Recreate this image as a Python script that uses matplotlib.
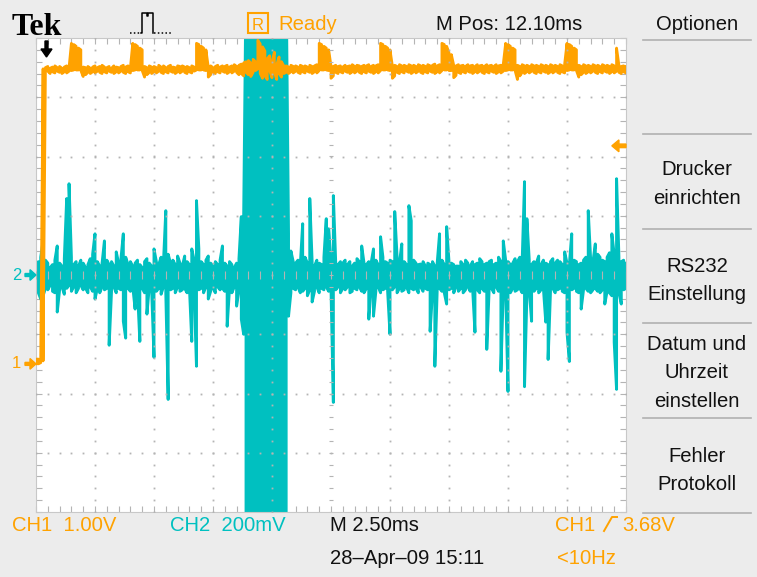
import matplotlib.pyplot as plt
import numpy as np
from matplotlib.patches import Polygon, Rectangle
from matplotlib.lines import Line2D
from matplotlib.transforms import blended_transform_factory

# scope settings
time_per_div = 2.5      # ms
ch1_per_div = 1.0       # V
ch2_per_div = 200.0     # mV
ch1_pos = -1.5          # div
ch2_pos = 0.0           # div
trig_level = 3.68       # V
col_step = 0.1          # ms per display column

# CH2 (cyan), per display column: max and min in mV
ch2_hi = [30, 45, 60, 115, 50, 40, 25, 35, 50, 98,
          40, 30, 55, 258, 308, 60, 35, 45, 30, 50,
          40, 25, 35, 55, 70, 139, 45, 30, 40, 115,
          50, 35, 45, 30, 78, 40, 55, 139, 60, 35,
          45, 30, 40, 50, 35, 25, 45, 55, 40, 30,
          88, 45, 35, 60, 40, 217, 70, 40, 50, 35,
          64, 40, 30, 64, 45, 35, 88, 50, 251, 88,
          45, 35, 50, 64, 40, 30, 45, 35, 50, 98,
          40, 30, 45, 35, 25, 40, 55, 197, 200, 1000,
          1000, 1000, 1000, 1000, 1000, 1000, 1000, 1000, 1000, 1000,
          1000, 1000, 1000, 1000, 1000, 1000, 1000, 139, 81, 45,
          40, 50, 35, 173, 60, 40, 258, 45, 30, 50,
          40, 35, 60, 190, 156, 45, 268, 40, 35, 45,
          40, 50, 35, 45, 30, 40, 55, 45, 98, 40,
          35, 45, 40, 88, 50, 35, 129, 60, 45, 40,
          50, 45, 214, 60, 40, 105, 45, 35, 234, 183,
          50, 40, 35, 37, 45, 30, 40, 35, 45, 30,
          40, 139, 50, 35, 163, 45, 40, 35, 30, 30,
          45, 35, 50, 40, 30, 45, 35, 40, 55, 45,
          35, 40, 45, 50, 35, 40, 60, 45, 115, 50,
          45, 35, 40, 55, 45, 60, 45, 315, 190, 50,
          35, 45, 40, 64, 35, 50, 40, 35, 45, 55,
          40, 50, 45, 35, 78, 40, 35, 139, 50, 45,
          35, 40, 50, 60, 217, 55, 45, 105, 70, 60,
          50, 45, 60, 75, 139, 70, 325, 60, 45, 50,
          40]
ch2_lo = [-40, -60, -81, -70, -45, -50, -35, -55, -60, -125,
          -50, -40, -65, -45, -35, -55, -40, -60, -45, -35,
          -50, -45, -60, -40, -55, -81, -45, -60, -40, -50,
          -45, -237, -55, -40, -60, -45, -50, -156, -213, -45,
          -55, -40, -115, -50, -224, -45, -60, -132, -40, -50,
          -278, -55, -45, -65, -40, -60, -420, -50, -45, -60,
          -40, -55, -50, -45, -60, -40, -224, -55, -308, -50,
          -45, -60, -40, -81, -55, -45, -60, -40, -50, -45,
          -55, -173, -45, -60, -40, -105, -50, -149, -200, -1000,
          -1000, -1000, -1000, -1000, -1000, -1000, -1000, -1000, -1000, -1000,
          -1000, -1000, -1000, -1000, -1000, -1000, -1000, -139, -60, -45,
          -50, -40, -60, -55, -45, -70, -50, -91, -55, -40,
          -60, -45, -50, -40, -55, -45, -430, -50, -40, -60,
          -45, -50, -40, -60, -55, -45, -50, -40, -55, -60,
          -45, -149, -50, -139, -55, -40, -60, -50, -45, -55,
          -200, -50, -40, -60, -45, -55, -50, -40, -60, -45,
          -50, -45, -60, -40, -55, -45, -50, -190, -60, -308,
          -50, -45, -55, -60, -98, -50, -45, -60, -40, -55,
          -45, -60, -50, -40, -55, -45, -193, -50, -60, -45,
          -55, -251, -50, -45, -60, -40, -55, -325, -50, -45,
          -393, -60, -45, -55, -50, -45, -60, -377, -70, -50,
          -156, -55, -45, -60, -50, -45, -159, -285, -55, -45,
          -60, -50, -45, -55, -60, -193, -292, -50, -45, -55,
          -60, -115, -50, -45, -55, -60, -50, -45, -55, -60,
          -50, -98, -55, -60, -70, -227, -386, -60, -98, -50,
          -45]

# CH1 (orange), per display column: max and min in V
ch1_hi = [0.08, 0.08, 0.10, 4.98, 5.00, 5.02, 4.99, 5.01, 5.03, 5.00,
          5.02, 4.99, 5.01, 5.03, 5.00, 5.41, 5.39, 5.36, 5.33, 5.30,
          5.01, 5.00, 5.02, 4.99, 5.01, 5.03, 5.00, 5.02, 5.04, 5.01,
          5.00, 5.02, 4.99, 5.03, 5.01, 5.00, 5.02, 5.04, 5.01, 5.03,
          5.00, 5.41, 5.39, 5.36, 5.33, 5.30, 5.02, 5.00, 5.03, 5.01,
          5.02, 5.00, 5.04, 5.01, 5.03, 5.00, 5.02, 5.04, 5.01, 5.00,
          5.03, 5.02, 5.03, 5.01, 5.02, 5.00, 5.03, 5.01, 5.41, 5.39,
          5.36, 5.33, 5.30, 5.01, 5.03, 5.00, 5.02, 5.04, 5.01, 5.03,
          5.02, 5.04, 5.01, 5.03, 5.05, 5.02, 5.04, 5.06, 5.08, 5.10,
          5.12, 5.08, 5.14, 5.10, 5.46, 5.40, 5.35, 5.28, 5.15, 5.20,
          5.10, 5.26, 5.05, 5.18, 5.10, 5.03, 5.03, 5.01, 5.04, 5.02,
          5.03, 5.01, 5.04, 5.02, 5.03, 5.01, 5.04, 5.02, 5.03, 5.05,
          5.41, 5.39, 5.36, 5.33, 5.30, 5.03, 5.02, 5.04, 5.02, 5.03,
          5.01, 5.04, 5.02, 5.03, 5.05, 5.02, 5.04, 5.03, 5.02, 5.04,
          5.03, 5.05, 5.02, 5.04, 5.03, 5.05, 5.41, 5.39, 5.36, 5.33,
          5.30, 5.03, 5.04, 5.02, 5.05, 5.03, 5.04, 5.02, 5.05, 5.03,
          5.04, 5.02, 5.05, 5.03, 5.04, 5.02, 5.05, 5.03, 5.04, 5.06,
          5.03, 5.05, 5.41, 5.39, 5.36, 5.25, 5.22, 5.04, 5.03, 5.05,
          5.03, 5.04, 5.02, 5.05, 5.03, 5.04, 5.02, 5.05, 5.03, 5.04,
          5.02, 5.05, 5.03, 5.04, 5.02, 5.05, 5.03, 5.04, 5.06, 5.41,
          5.39, 5.36, 5.33, 5.30, 5.04, 5.02, 5.05, 5.03, 5.04, 5.02,
          5.05, 5.03, 5.04, 5.02, 5.05, 5.03, 5.04, 5.02, 5.05, 5.03,
          5.04, 5.02, 5.05, 5.03, 5.06, 5.41, 5.39, 5.36, 5.33, 5.30,
          5.04, 5.02, 5.05, 5.03, 5.04, 5.02, 5.05, 5.03, 5.04, 5.02,
          5.05, 5.03, 5.04, 5.02, 5.05, 5.03, 5.33, 5.04, 5.02, 5.03,
          5.02]
ch1_lo = [0.00, 0.00, 0.02, 0.05, 4.92, 4.94, 4.90, 4.93, 4.91, 4.94,
          4.92, 4.90, 4.93, 4.91, 4.94, 4.95, 4.96, 4.96, 4.96, 4.95,
          4.85, 4.88, 4.92, 4.90, 4.93, 4.91, 4.94, 4.92, 4.90, 4.93,
          4.91, 4.94, 4.92, 4.90, 4.93, 4.91, 4.94, 4.92, 4.90, 4.93,
          4.91, 4.95, 4.96, 4.96, 4.96, 4.95, 4.84, 4.88, 4.92, 4.90,
          4.93, 4.91, 4.94, 4.92, 4.90, 4.93, 4.91, 4.94, 4.92, 4.90,
          4.93, 4.91, 4.94, 4.92, 4.90, 4.93, 4.91, 4.94, 4.96, 4.96,
          4.96, 4.96, 4.95, 4.84, 4.88, 4.92, 4.90, 4.93, 4.91, 4.94,
          4.92, 4.90, 4.93, 4.91, 4.94, 4.92, 4.88, 4.90, 4.86, 4.92,
          4.88, 4.85, 4.92, 4.95, 4.98, 4.90, 4.82, 4.86, 4.80, 4.95,
          4.83, 4.92, 4.80, 4.90, 4.84, 4.90, 4.92, 4.90, 4.93, 4.91,
          4.94, 4.92, 4.90, 4.93, 4.91, 4.94, 4.92, 4.90, 4.93, 4.91,
          4.95, 4.96, 4.96, 4.96, 4.95, 4.82, 4.86, 4.92, 4.90, 4.93,
          4.91, 4.94, 4.92, 4.90, 4.93, 4.91, 4.94, 4.92, 4.90, 4.93,
          4.91, 4.94, 4.92, 4.90, 4.93, 4.91, 4.95, 4.96, 4.96, 4.96,
          4.95, 4.82, 4.86, 4.92, 4.90, 4.93, 4.91, 4.94, 4.92, 4.90,
          4.93, 4.91, 4.94, 4.92, 4.90, 4.93, 4.91, 4.94, 4.92, 4.90,
          4.93, 4.91, 4.95, 4.96, 4.96, 4.95, 4.95, 4.83, 4.87, 4.92,
          4.90, 4.93, 4.91, 4.94, 4.92, 4.90, 4.93, 4.91, 4.94, 4.92,
          4.90, 4.93, 4.91, 4.94, 4.92, 4.90, 4.93, 4.91, 4.94, 4.95,
          4.96, 4.96, 4.96, 4.95, 4.80, 4.86, 4.92, 4.90, 4.93, 4.91,
          4.94, 4.92, 4.90, 4.93, 4.91, 4.94, 4.92, 4.90, 4.93, 4.91,
          4.94, 4.92, 4.90, 4.93, 4.91, 4.95, 4.96, 4.96, 4.96, 4.95,
          4.84, 4.88, 4.92, 4.90, 4.93, 4.91, 4.94, 4.92, 4.90, 4.93,
          4.91, 4.94, 4.92, 4.90, 4.93, 4.91, 4.94, 4.92, 4.90, 4.93,
          4.91]

menu_items = ['Drucker\neinrichten', 'RS232\nEinstellung',
              'Datum und\nUhrzeit\neinstellen', 'Fehler\nProtokoll']

W, H = 757, 577
ORANGE = '#ffa200'
CYAN = '#00c0c0'
BG = '#ececec'
GRID = '#b4b4b4'
FONT = ['Liberation Sans', 'DejaVu Sans']
FS = 14.6


def fx(px):
    return px / W


def fy(py):
    return 1 - py / H


def zigzag(t, lo, hi):
    # one vertical stroke per column, joined like the scope draws it
    xs, ys = [], []
    for k in range(len(t)):
        a, b = (lo[k], hi[k]) if k % 2 == 0 else (hi[k], lo[k])
        xs += [t[k], t[k]]
        ys += [a, b]
    return xs, ys


fig = plt.figure(figsize=(W / 100, H / 100), dpi=100, facecolor=BG)
ax = fig.add_axes([fx(36), fy(512), 590 / W, 474 / H])
ax.set_facecolor('white')
ax.set_xlim(0, 10 * time_per_div)
ax.set_ylim(-4, 4)

t = np.arange(len(ch2_hi)) * col_step
xs, ys = zigzag(t, np.array(ch2_lo) / ch2_per_div + ch2_pos,
                np.array(ch2_hi) / ch2_per_div + ch2_pos)
ax.plot(xs, ys, color=CYAN, lw=2.1, zorder=2)

t1 = np.arange(len(ch1_hi)) * col_step
xs, ys = zigzag(t1, np.array(ch1_lo) / ch1_per_div + ch1_pos,
                np.array(ch1_hi) / ch1_per_div + ch1_pos)
ax.plot(xs, ys, color=ORANGE, lw=2.0, zorder=3)

# graticule dots
sub_y = np.arange(-4, 4.001, 0.2)
sub_x = np.arange(0, 25.001, 0.5)
for k in range(1, 10):
    if k == 5:
        continue
    ax.plot([k * time_per_div] * len(sub_y), sub_y, ls='none', marker='s',
            ms=1.3, mew=0, color=GRID, zorder=4)
for k in range(-3, 4):
    if k == 0:
        continue
    ax.plot(sub_x, [k] * len(sub_x), ls='none', marker='s', ms=1.3, mew=0,
            color=GRID, zorder=4)
# center cross with tick marks
ax.vlines(sub_x, -0.06, 0.06, color=GRID, lw=0.8, zorder=4)
ax.hlines(sub_y, 12.5 - 0.1, 12.5 + 0.1, color=GRID, lw=0.8, zorder=4)

ax.set_xticks(np.arange(0, 25.01, 2.5))
ax.set_yticks(np.arange(-4, 4.01, 1))
ax.set_xticks(sub_x, minor=True)
ax.set_yticks(sub_y, minor=True)
ax.tick_params(which='both', direction='in', top=True, right=True,
               labelbottom=False, labelleft=False, color=GRID,
               length=4, width=0.8)
for s in ax.spines.values():
    s.set_color('#c8c8c8')
    s.set_linewidth(0.8)

# trigger position marker (top)
fig.add_artist(Polygon([[fx(45), fy(41)], [fx(48), fy(41)], [fx(48), fy(49)],
                        [fx(52), fy(49)], [fx(46.5), fy(57)], [fx(41), fy(49)],
                        [fx(45), fy(49)]], closed=True, color='black',
                       transform=fig.transFigure))

# trigger level marker (right)
tr = blended_transform_factory(ax.transAxes, ax.transData)
yl = trig_level / ch1_per_div + ch1_pos
ax.add_patch(Polygon([[0.976, yl], [0.988, yl + 0.1], [0.988, yl + 0.03],
                      [1.0, yl + 0.03], [1.0, yl - 0.03], [0.988, yl - 0.03],
                      [0.988, yl - 0.1]], closed=True, color=ORANGE,
                     transform=tr, clip_on=False, zorder=5))

# channel ground markers (left)
tl = blended_transform_factory(fig.transFigure, ax.transData)
for label, pos, col in [('2', ch2_pos, CYAN), ('1', ch1_pos, ORANGE)]:
    fig.text(fx(12), pos, label, transform=tl, color=col, fontsize=12,
             family=FONT, va='center', ha='left')
    fig.add_artist(Polygon([[fx(25), pos + 0.025], [fx(30), pos + 0.025],
                            [fx(30), pos + 0.09], [fx(36), pos],
                            [fx(30), pos - 0.09], [fx(30), pos - 0.025],
                            [fx(25), pos - 0.025]], closed=True, color=col,
                           transform=tl))

# top status bar
fig.text(fx(12), fy(35), 'Tek', family=['Liberation Serif', 'DejaVu Serif'],
         weight='bold', fontsize=23, ha='left', va='baseline')
icon_x = [141, 142, 142, 147, 147, 148, 148, 153, 153]
icon_y = [33, 33, 13, 13, 16, 16, 13, 13, 33]
fig.add_artist(Line2D([fx(v) for v in icon_x], [fy(v) for v in icon_y],
                      color='black', lw=1.1, transform=fig.transFigure))
fig.add_artist(Line2D([fx(130), fx(141)], [fy(33), fy(33)], color='black', lw=1.1,
                      ls=(0, (1, 1.5)), transform=fig.transFigure))
fig.add_artist(Line2D([fx(154), fx(172)], [fy(33), fy(33)], color='black', lw=1.1,
                      ls=(0, (1, 1.5)), transform=fig.transFigure))
fig.add_artist(Rectangle((fx(248), fy(33)), 20 / W, 20 / H, fill=False,
                         ec=ORANGE, lw=1.5, transform=fig.transFigure))
fig.text(fx(258), fy(30), 'R', color=ORANGE, fontsize=12, family=FONT,
         ha='center', va='baseline')
fig.text(fx(278), fy(30), 'Ready', color=ORANGE, fontsize=FS, family=FONT,
         ha='left', va='baseline')
fig.text(fx(436), fy(30), 'M Pos: 12.10ms', color='#111111', fontsize=FS,
         family=FONT, ha='left', va='baseline')
fig.text(fx(697), fy(30), 'Optionen', color='#111111', fontsize=FS,
         family=FONT, ha='center', va='baseline')

# side menu
for py in [40, 134, 229, 323, 418, 513]:
    fig.add_artist(Line2D([fx(643), fx(751)], [fy(py), fy(py)], color='#b0b0b0',
                          lw=1.2, transform=fig.transFigure))
menu_base = [175, 272, 350, 462]
for item, py in zip(menu_items, menu_base):
    for j, line in enumerate(item.split('\n')):
        fig.text(fx(697), fy(py + 28.5 * j), line, color='#111111', fontsize=FS,
                 family=FONT, ha='center', va='baseline')

# bottom readouts
fig.text(fx(12), fy(531), f'CH1  {ch1_per_div:.2f}V', color=ORANGE, fontsize=FS,
         family=FONT, ha='left', va='baseline')
fig.text(fx(170), fy(531), f'CH2  {ch2_per_div:.0f}mV', color=CYAN, fontsize=FS,
         family=FONT, ha='left', va='baseline')
fig.text(fx(330), fy(531), f'M {time_per_div:.2f}ms', color='#111111', fontsize=FS,
         family=FONT, ha='left', va='baseline')
fig.text(fx(555), fy(531), 'CH1', color=ORANGE, fontsize=FS, family=FONT,
         ha='left', va='baseline')
fig.add_artist(Line2D([fx(604), fx(612), fx(617)], [fy(531), fy(517), fy(517)],
                      color=ORANGE, lw=1.4, transform=fig.transFigure))
fig.text(fx(622), fy(531), f'{trig_level:.2f}V', color=ORANGE, fontsize=FS,
         family=FONT, ha='left', va='baseline')
fig.text(fx(330), fy(564), '28\u2013Apr\u201309 15:11', color='#111111',
         fontsize=FS, family=FONT, ha='left', va='baseline')
fig.text(fx(557), fy(564), '<10Hz', color=ORANGE, fontsize=FS, family=FONT,
         ha='left', va='baseline')

fig.savefig('out.png', dpi=100, facecolor=BG)
